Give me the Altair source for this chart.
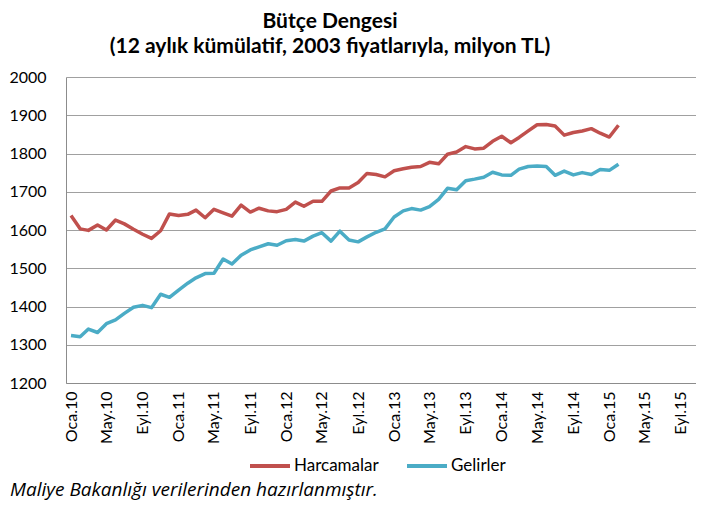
import altair as alt
import pandas as pd

# ---- data ----
start_month = "2010-01-01"
harcamalar = [1638, 1603, 1599, 1613, 1600, 1626, 1616, 1602, 1589, 1578,
              1598, 1642, 1638, 1641, 1652, 1632, 1654, 1645, 1636, 1665,
              1647, 1657, 1650, 1648, 1654, 1673, 1662, 1675, 1675, 1702,
              1710, 1710, 1724, 1748, 1745, 1739, 1755, 1760, 1764, 1766,
              1777, 1773, 1798, 1804, 1818, 1812, 1814, 1832, 1845, 1828,
              1842, 1859, 1875, 1876, 1872, 1848, 1855, 1859, 1865, 1853,
              1843, 1874]
gelirler = [1324, 1321, 1341, 1332, 1355, 1365, 1382, 1398, 1403, 1397,
            1432, 1424, 1443, 1461, 1475, 1486, 1487, 1524, 1511, 1534,
            1548, 1556, 1564, 1560, 1572, 1575, 1571, 1584, 1593, 1571,
            1597, 1574, 1569, 1582, 1594, 1603, 1634, 1650, 1656, 1652,
            1661, 1680, 1709, 1705, 1729, 1733, 1738, 1751, 1744, 1743,
            1759, 1766, 1767, 1766, 1743, 1754, 1744, 1750, 1745, 1758,
            1756, 1772]
series_names = ["Harcamalar", "Gelirler"]
series_colors = ["#C0504D", "#4BACC6"]
y_ticks = [1200, 1300, 1400, 1500, 1600, 1700, 1800, 1900, 2000]
x_tick_dates = pd.date_range("2010-01-01", "2015-09-01", freq="4MS")
x_domain = ["2009-12-15", "2015-10-22"]
title_main = "Bütçe Dengesi"
title_sub = "(12 aylık kümülatif, 2003 fiyatlarıyla, milyon TL)"
footnote = "Maliye Bakanlığı verilerinden hazırlanmıştır."

FONT = "Lato"


def ms(d):
    return int(pd.Timestamp(d, tz="UTC").value // 10**6)


months = pd.date_range(start_month, periods=len(harcamalar), freq="MS")
df = pd.DataFrame({
    "date": [ms(d) for d in months] * 2,
    "value": harcamalar + gelirler,
    "series": [series_names[0]] * len(harcamalar) + [series_names[1]] * len(gelirler),
})

label_expr = ("(utcmonth(datum.value)==0 ? 'Oca' : utcmonth(datum.value)==4 ? 'May' : 'Eyl')"
              " + '.' + utcFormat(datum.value, '%y')")

lines = alt.Chart(df).mark_line(strokeWidth=3.5, strokeJoin="round").encode(
    x=alt.X("date:T",
            scale=alt.Scale(type="utc", domain=[ms(x_domain[0]), ms(x_domain[1])]),
            axis=alt.Axis(values=[ms(d) for d in x_tick_dates], labelExpr=label_expr,
                          labelAngle=-90, grid=False, ticks=False, tickSize=0,
                          domainColor="#8c8c8c", domainWidth=1, labelFont=FONT,
                          labelFontSize=16, labelColor="black", labelPadding=8,
                          title=None)),
    y=alt.Y("value:Q",
            scale=alt.Scale(domain=[1200, 2000], nice=False, zero=False),
            axis=alt.Axis(values=y_ticks, format="d", grid=True, gridColor="#a0a0a0",
                          gridWidth=1, ticks=False, tickSize=0, domainColor="#8c8c8c",
                          labelFont=FONT, labelFontSize=16, labelColor="black",
                          labelPadding=20, title=None)),
    color=alt.Color("series:N",
                    scale=alt.Scale(domain=series_names, range=series_colors),
                    legend=alt.Legend(orient="none", legendX=182, legendY=367,
                                      direction="horizontal", title=None,
                                      symbolType="stroke", symbolStrokeWidth=4,
                                      symbolSize=1600, labelFont=FONT,
                                      labelFontSize=17, labelColor="black",
                                      columnPadding=20, padding=0, labelOffset=2)),
)

t1 = alt.Chart(pd.DataFrame({"t": [title_main]})).mark_text(
    font=FONT, fontSize=21, fontWeight="bold", align="center", baseline="middle",
    color="black").encode(x=alt.value(264), y=alt.value(-55), text="t:N")
t2 = alt.Chart(pd.DataFrame({"t": [title_sub]})).mark_text(
    font=FONT, fontSize=21, fontWeight="bold", align="center", baseline="middle",
    color="black").encode(x=alt.value(264), y=alt.value(-30), text="t:N")
foot = alt.Chart(pd.DataFrame({"t": [footnote]})).mark_text(
    font="Open Sans", fontSize=19, fontStyle="italic", align="left", baseline="middle",
    color="black").encode(x=alt.value(-56), y=alt.value(413), text="t:N")

chart = alt.layer(lines, t1, t2, foot).properties(
    width=630, height=306,
    padding={"left": 58, "top": 69, "right": 0, "bottom": 120},
    autosize=alt.AutoSizeParams(type="none"),
    background="white",
).configure_view(stroke=None)

chart.save("out.html", embed_options={"renderer": "svg", "actions": False})
